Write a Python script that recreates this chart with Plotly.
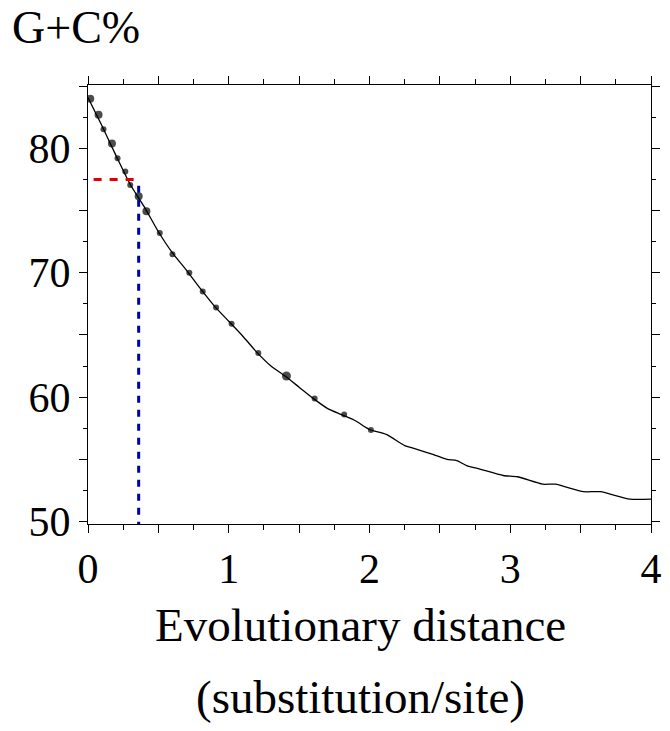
import plotly.graph_objects as go

# observed data points (distance, G+C%)
dist_pts = [0.016, 0.075, 0.11, 0.17, 0.21, 0.265, 0.30, 0.36, 0.415, 0.51,
            0.60, 0.72, 0.815, 0.91, 1.02, 1.21, 1.41, 1.61, 1.82, 2.01]
gc_pts = [84.0, 82.7, 81.55, 80.4, 79.2, 78.15, 77.05, 76.15, 74.95, 73.2,
          71.5, 70.0, 68.5, 67.2, 65.9, 63.55, 61.7, 59.9, 58.6, 57.35]
# emphasised (overlapping) dots drawn slightly larger
dot_sizes = [8, 8, 6, 8, 6, 6, 6, 8, 8, 6, 6, 6, 6, 6, 6, 6, 9, 6, 6, 6]

# fitted curve
curve_x = [0.0, 0.1, 0.2, 0.3, 0.4, 0.5, 0.6, 0.7, 0.8, 0.9, 1.0, 1.1, 1.2, 1.3,
           1.4, 1.5, 1.6, 1.7, 1.8, 1.9, 2.0, 2.12, 2.25, 2.31, 2.45, 2.55, 2.62,
           2.69, 2.79, 2.95, 3.05, 3.23, 3.32, 3.52, 3.64, 3.85, 4.0]
curve_y = [84.1, 81.8, 79.4, 77.1, 75.3, 73.3, 71.6, 70.2, 68.7, 67.3, 66.1, 64.9,
           63.6, 62.5, 61.7, 60.8, 59.9, 59.1, 58.6, 58.1, 57.4, 57.0, 56.1, 55.9,
           55.4, 55.0, 54.9, 54.5, 54.2, 53.7, 53.6, 53.0, 53.0, 52.4, 52.4, 51.8, 51.8]

# guide lines
red_x = [0.04, 0.33]
red_y = [77.5, 77.5]
blue_x = [0.36, 0.36]
blue_y = [77.0, 49.8]

x_tickvals = [0, 0.5, 1, 1.5, 2, 2.5, 3, 3.5, 4]
x_ticktext = ["0", "", "1", "", "2", "", "3", "", "4"]
y_tickvals = [50, 55, 60, 65, 70, 75, 80, 85]
y_ticktext = ["50", "", "60", "", "70", "", "80", ""]

FONT = "Liberation Serif, Times New Roman, serif"

fig = go.Figure()
fig.add_trace(go.Scatter(x=curve_x, y=curve_y, mode="lines",
                         line=dict(color="black", width=1.3, shape="spline", smoothing=0.6),
                         hoverinfo="skip"))
fig.add_trace(go.Scatter(x=dist_pts, y=gc_pts, mode="markers",
                         marker=dict(color="black", size=dot_sizes, line=dict(width=0))))
fig.add_trace(go.Scatter(x=red_x, y=red_y, mode="lines",
                         line=dict(color="#e00000", width=3, dash="8px,8px")))
fig.add_trace(go.Scatter(x=blue_x, y=blue_y, mode="lines",
                         line=dict(color="#0000a8", width=3, dash="7px,7px")))

fig.update_layout(
    width=670, height=731,
    margin=dict(l=88, r=19, t=85, b=207),
    paper_bgcolor="white", plot_bgcolor="white",
    showlegend=False,
    font=dict(family=FONT, color="black"),
    annotations=[
        dict(text="G+C%", x=-0.138, y=1.132, xref="paper", yref="paper", showarrow=False,
             font=dict(size=46, family=FONT), xanchor="left", yanchor="middle"),
        dict(text="Evolutionary distance", x=0.4846, y=-0.230, xref="paper", yref="paper",
             showarrow=False, font=dict(size=47, family=FONT), xanchor="center", yanchor="middle"),
        dict(text="(substitution/site)", x=0.4846, y=-0.395, xref="paper", yref="paper",
             showarrow=False, font=dict(size=47, family=FONT), xanchor="center", yanchor="middle"),
    ],
)

fig.update_xaxes(range=[0, 4], tickmode="array", tickvals=x_tickvals, ticktext=x_ticktext,
                 ticks="outside", ticklen=8, tickwidth=1, tickcolor="black",
                 minor=dict(dtick=0.25, ticks="outside", ticklen=5, tickwidth=1, tickcolor="black"),
                 showline=True, linecolor="black", linewidth=1, mirror="ticks",
                 showgrid=False, zeroline=False, automargin=False,
                 tickfont=dict(size=42, family=FONT, color="black"))
fig.update_yaxes(range=[49.8, 85.1], tickmode="array", tickvals=y_tickvals, ticktext=y_ticktext,
                 ticks="outside", ticklen=8, tickwidth=1, tickcolor="black",
                 minor=dict(dtick=2.5, tick0=50, ticks="outside", ticklen=4, tickwidth=1, tickcolor="black"),
                 showline=True, linecolor="black", linewidth=1, mirror="ticks",
                 showgrid=False, zeroline=False, automargin=False,
                 tickfont=dict(size=42, family=FONT, color="black"))

fig.write_html("out.html", config={"displayModeBar": False},
               post_script="document.body.style.margin='0';document.body.style.overflow='hidden';")
